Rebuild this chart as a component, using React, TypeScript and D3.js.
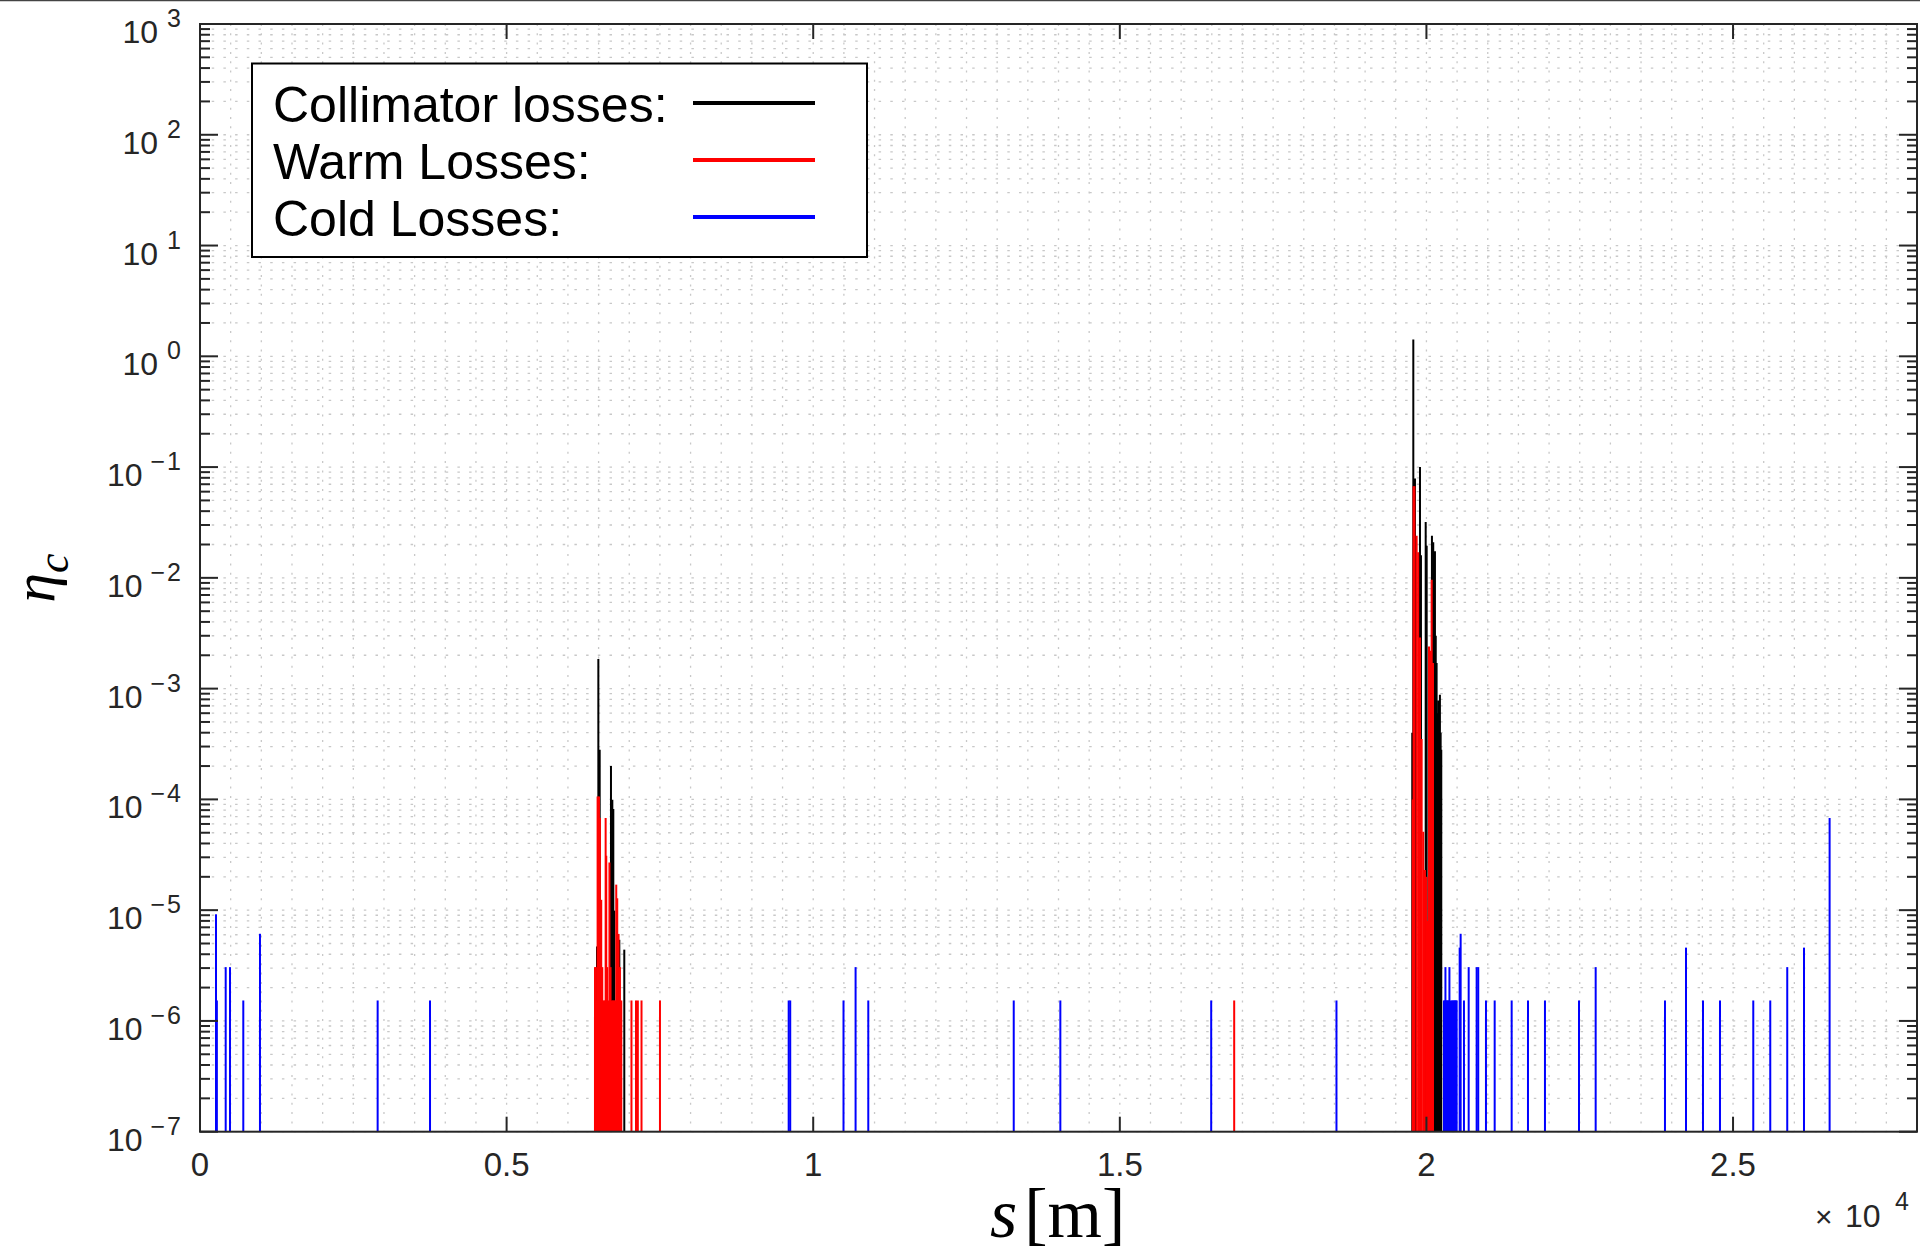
import React from 'react';
import * as d3 from 'd3';

const W = 1920;
const H = 1252;
const PL = 200, PR = 1917, PT = 24, PB = 1131.7;

const xTicks = [0, 5000, 10000, 15000, 20000, 25000];
const xTickLabels = ['0', '0.5', '1', '1.5', '2', '2.5'];
const yExponents = [3, 2, 1, 0, -1, -2, -3, -4, -5, -6, -7];
const xDomain = [0, 28000];
const yDomain = [1e-7, 1e3];

const legendLabels = ['Collimator losses:', 'Warm Losses:', 'Cold Losses:'];
const legendColors = ['#000000', '#ff0000', '#0000ff'];

const collimatorS = [6474, 6496, 6518, 6702, 6724, 6740, 6756, 6838, 6919,
  19769, 19786, 19813, 19895, 19911, 19988, 20004, 20090, 20111, 20125, 20139, 20152,
  20166, 20180, 20192, 20206, 20220, 20232, 20242];
const collimatorV = [4.7e-6, 1.85e-3, 2.8e-4, 2.0e-4, 9.9e-5, 8.2e-5, 9.9e-6, 5.4e-6, 4.4e-6,
  4.0e-4, 1.42, 0.079, 0.1, 0.016, 0.032, 0.0195, 0.024, 0.021, 5e-3, 0.0174, 3e-3,
  1.7e-3, 6e-4, 7.8e-4, 5e-4, 8.8e-4, 4e-4, 2.8e-4];

const warmS = [6441, 6457, 6470, 6484, 6506, 6522, 6543, 6560, 6582, 6598, 6615, 6625, 6641,
  6660, 6677, 6695, 6716, 6735, 6755, 6772, 6788, 6804, 6826, 6848, 6870,
  7036, 7110, 7140, 7200, 7501, 16865,
  19776, 19790, 19805, 19840, 19866, 19895, 19922, 19948, 19976, 20000, 20020, 20042,
  20065, 20086, 20107];
const warmV = [3.06e-6, 3.06e-6, 1.53e-6, 1.06e-4, 1.06e-4, 6.8e-5, 1.24e-5, 3.06e-6, 1.53e-6,
  1.53e-6, 6.8e-5, 3.1e-5, 3.06e-6, 1.53e-6, 2.7e-5, 3.06e-6, 1.53e-6, 1.53e-6, 1.53e-6,
  1.53e-6, 1.7e-5, 1.28e-5, 6.1e-6, 3.06e-6, 1.53e-6,
  1.53e-6, 1.53e-6, 1.53e-6, 1.53e-6, 1.53e-6, 1.53e-6,
  1.0e-4, 0.067, 0.067, 0.024, 0.017, 2.9e-3, 3.5e-4, 5.1e-5, 2.3e-5, 2.0e-5, 8e-6, 2.4e-3,
  2.2e-3, 9.6e-3, 1.7e-3];

const coldS = [261, 275, 419, 489, 706, 978, 2897, 3751, 9600, 9625, 10494, 10691, 10898,
  13270, 14030, 16490, 18533,
  20286, 20300, 20310, 20325, 20335, 20350, 20368, 20375, 20395, 20417, 20435, 20450,
  20466, 20480, 20493, 20542, 20558, 20612, 20689, 20819, 20845, 20971, 21113, 21390,
  21656, 21933, 22488, 22760, 23890, 24233, 24510, 24787, 25330, 25607, 25884, 26157, 26575];
const coldV = [9.18e-6, 1.53e-6, 3.06e-6, 3.06e-6, 1.53e-6, 6.12e-6, 1.53e-6, 1.53e-6,
  1.53e-6, 1.53e-6, 1.53e-6, 3.06e-6, 1.53e-6, 1.53e-6, 1.53e-6, 1.53e-6, 1.53e-6,
  1.53e-6, 1.53e-6, 3.06e-6, 1.53e-6, 1.53e-6, 1.53e-6, 1.53e-6, 3.06e-6, 1.53e-6,
  1.53e-6, 1.53e-6, 1.53e-6, 1.53e-6, 1.53e-6, 1.53e-6, 4.59e-6, 6.12e-6, 1.53e-6,
  3.06e-6, 3.06e-6, 3.06e-6, 1.53e-6, 1.53e-6, 1.53e-6, 1.53e-6, 1.53e-6, 1.53e-6,
  3.06e-6, 1.53e-6, 4.59e-6, 1.53e-6, 1.53e-6, 1.53e-6, 1.53e-6, 3.06e-6, 4.59e-6, 6.8e-5];

const AX = '#262626';
const GRID = '#c8c8c8';
const SANS = '"Liberation Sans", Arial, Helvetica, sans-serif';
const SERIF = '"Liberation Serif", "DejaVu Serif", serif';

export default function App() {
  const x = d3.scaleLinear().domain(xDomain).range([PL, PR]);
  const y = d3.scaleLog().domain(yDomain).range([PB, PT]);

  const xMinor = d3.range(0, 28001, 500);
  const yMinor: number[] = [];
  for (let e = -7; e < 3; e++) for (let k = 2; k <= 9; k++) yMinor.push(k * Math.pow(10, e));
  const yMajor = yExponents.map((e) => Math.pow(10, e));

  const series = [
    { s: collimatorS, v: collimatorV, c: legendColors[0] },
    { s: warmS, v: warmV, c: legendColors[1] },
    { s: coldS, v: coldV, c: legendColors[2] },
  ];

  return (
    <svg width={W} height={H} style={{ position: 'absolute', left: 0, top: 0, background: '#fff' }}>
      <rect x={0} y={0} width={W} height={H} fill="#fff" />
      <line x1={0} x2={W} y1={0.5} y2={0.5} stroke="#444" strokeWidth={1.5} />
      <defs>
        <clipPath id="plotclip">
          <rect x={PL} y={PT} width={PR - PL} height={PB - PT} />
        </clipPath>
      </defs>
      {/* grid */}
      <g>
        {xMinor.map((t) => (
          <line key={'gx' + t} x1={x(t)} x2={x(t)} y1={PT} y2={PB} stroke={GRID}
            strokeWidth={1.3} strokeDasharray="2,7.3" />
        ))}
        {[...yMajor, ...yMinor].map((t) => (
          <line key={'gy' + t} x1={PL} x2={PR} y1={y(t)} y2={y(t)} stroke={GRID}
            strokeWidth={1.3} strokeDasharray="2.5,9.2" />
        ))}
      </g>
      {/* data */}
      <g clipPath="url(#plotclip)">
        {series.map((ser, si) => (
          <g key={si}>
            {ser.s.map((s, i) => (
              <line key={i} x1={x(s)} x2={x(s)} y1={y(yDomain[0])} y2={y(ser.v[i])}
                stroke={ser.c} strokeWidth={2} />
            ))}
          </g>
        ))}
      </g>
      {/* axes box */}
      <rect x={PL} y={PT} width={PR - PL} height={PB - PT} fill="none" stroke={AX} strokeWidth={2} />
      {/* x ticks */}
      {xTicks.map((t, i) => (
        <g key={'xt' + t}>
          <line x1={x(t)} x2={x(t)} y1={PB} y2={PB - 15} stroke={AX} strokeWidth={2} />
          <line x1={x(t)} x2={x(t)} y1={PT} y2={PT + 15} stroke={AX} strokeWidth={2} />
          <text x={x(t)} y={1176} textAnchor="middle" fontFamily={SANS} fontSize={33} fill={AX}>
            {xTickLabels[i]}
          </text>
        </g>
      ))}
      {/* y ticks */}
      {yMajor.map((t, i) => {
        const e = yExponents[i];
        return (
          <g key={'yt' + t}>
            <line x1={PL} x2={PL + 18} y1={y(t)} y2={y(t)} stroke={AX} strokeWidth={2} />
            <line x1={PR} x2={PR - 18} y1={y(t)} y2={y(t)} stroke={AX} strokeWidth={2} />
            <text x={181} y={y(t) + 19} textAnchor="end" fontFamily={SANS} fontSize={32} fill={AX}>
              10
              {e < 0 ? (
                <>
                  <tspan dx={8} dy={-16} fontSize={25}>{'\u2212'}</tspan>
                  <tspan dx={2} fontSize={25}>{String(Math.abs(e))}</tspan>
                </>
              ) : (
                <tspan dx={9} dy={-16} fontSize={25}>{String(e)}</tspan>
              )}
            </text>
          </g>
        );
      })}
      {yMinor.map((t) => (
        <g key={'ym' + t}>
          <line x1={PL} x2={PL + 10} y1={y(t)} y2={y(t)} stroke={AX} strokeWidth={2} />
          <line x1={PR} x2={PR - 10} y1={y(t)} y2={y(t)} stroke={AX} strokeWidth={2} />
        </g>
      ))}
      {/* x10^4 */}
      <text y={1227} fontFamily={SANS} fontSize={32} fill={AX}>
        <tspan x={1815} fontSize={30}>{'\u00d7'}</tspan>
        <tspan x={1845}>10</tspan>
        <tspan x={1895} dy={-17} fontSize={25}>4</tspan>
      </text>
      {/* x label */}
      <text x={990} y={1237} fontFamily={SERIF} fontSize={70} fill="#000">
        <tspan fontStyle="italic">s</tspan>
        <tspan dx={7}>[m]</tspan>
      </text>
      {/* y label */}
      <g transform="translate(54,578) rotate(-90)">
        <text textAnchor="middle" fontFamily={SERIF} fontSize={60} fontStyle="italic" fill="#000">
          {'\u03b7'}
          <tspan fontSize={44} dy={14}>c</tspan>
        </text>
      </g>
      {/* legend */}
      <g>
        <rect x={252} y={63.5} width={615} height={193.5} fill="#fff" stroke="#000" strokeWidth={2} />
        {legendLabels.map((lab, i) => (
          <g key={lab}>
            <text x={273} y={122 + i * 57} fontFamily={SANS} fontSize={50} fill="#000">{lab}</text>
            <line x1={693} x2={815} y1={103 + i * 57} y2={103 + i * 57} stroke={legendColors[i]}
              strokeWidth={4} />
          </g>
        ))}
      </g>
    </svg>
  );
}
